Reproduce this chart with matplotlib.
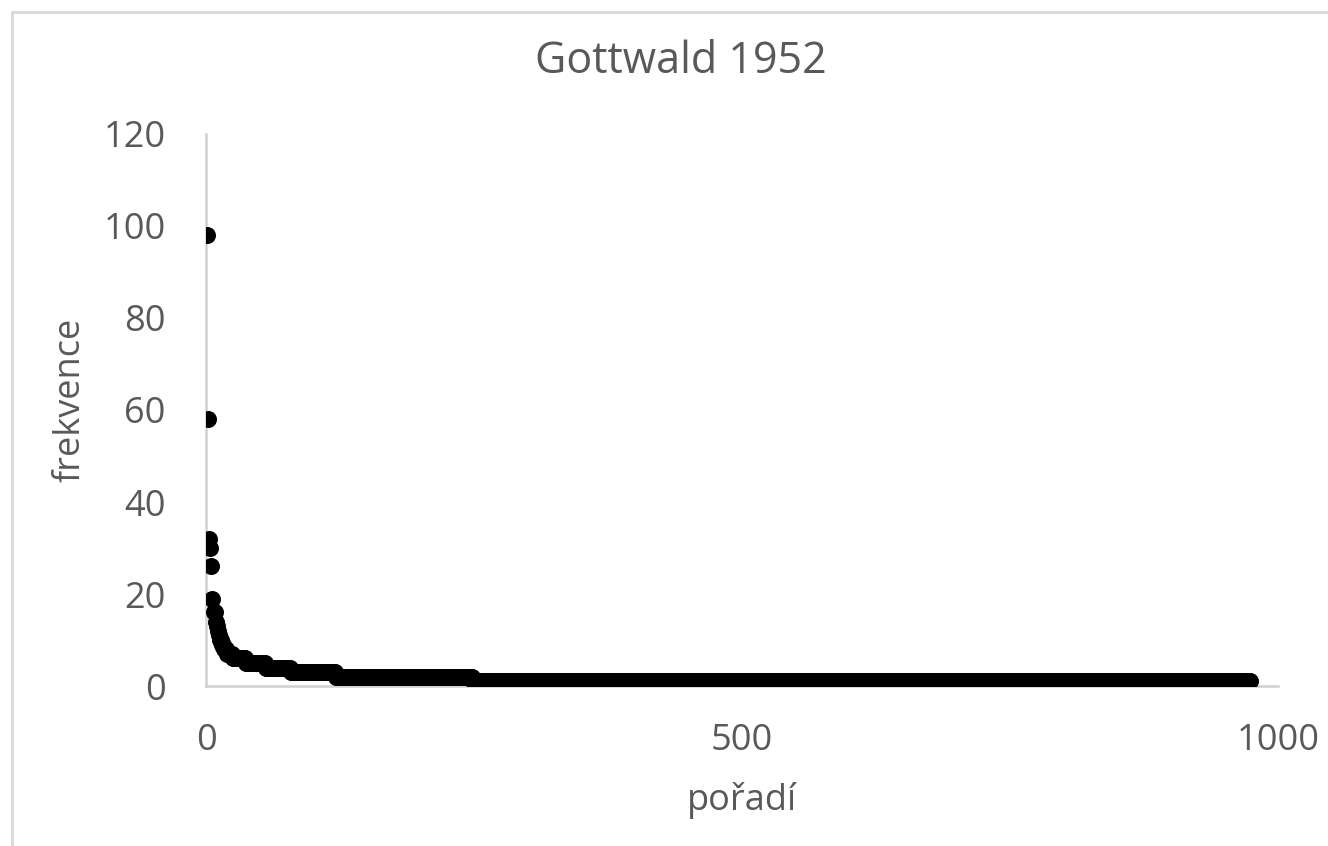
import matplotlib
matplotlib.use("Agg")
import matplotlib.pyplot as plt
import numpy as np
from matplotlib.patches import Rectangle

# Data: highest frequencies one by one, then the rest as runs (frequency, how many words)
head_freq = [98, 58, 32, 30, 26, 19, 16, 16, 14, 13, 12, 11, 10, 10, 9, 9,
             8, 8, 8, 7, 7, 7, 7, 7]
run_freq = [6, 5, 4, 3, 2, 1]
run_count = [12, 19, 23, 42, 128, 726]

freq = np.concatenate([head_freq, np.repeat(run_freq, run_count)])
rank = np.arange(1, len(freq) + 1)

grey = "#595959"
plt.rcParams['font.family'] = ['Open Sans', 'DejaVu Sans']

W, H = 1328, 846
fig = plt.figure(figsize=(W / 100, H / 100), dpi=100)
ax = fig.add_axes([206 / W, 1 - 686 / H, (1278 - 206) / W, (686 - 134) / H])

ax.scatter(rank, freq, s=150, color="black", zorder=3, linewidths=0)

ax.set_xlim(0, 1000)
ax.set_ylim(0, 120)
ax.set_xticks([0, 500, 1000])
ax.set_yticks(range(0, 121, 20))

for side in ["top", "right"]:
    ax.spines[side].set_visible(False)
for side in ["left", "bottom"]:
    ax.spines[side].set_color("#d0d0d0")
    ax.spines[side].set_linewidth(1.8)
    ax.spines[side].set_zorder(1)

ax.tick_params(length=0, labelsize=26, colors=grey)
ax.tick_params(axis="y", pad=29)
ax.tick_params(axis="x", pad=27)

fig.text(681 / W, 1 - 62 / H, "Gottwald 1952", fontsize=31, color=grey,
         ha="center", va="center")
fig.text(742 / W, 1 - 800 / H, "pořadí", fontsize=26, color=grey,
         ha="center", va="center")
fig.text(70 / W, 1 - 400 / H, "frekvence", fontsize=26, color=grey,
         ha="center", va="center", rotation=90)

# chart area border
fig.patches.append(Rectangle((12 / W, -0.1), 1.1, 1 - 12 / H + 0.1,
                             transform=fig.transFigure, fill=False,
                             edgecolor="#d9d9d9", linewidth=2))

fig.savefig("out.png", dpi=100)
